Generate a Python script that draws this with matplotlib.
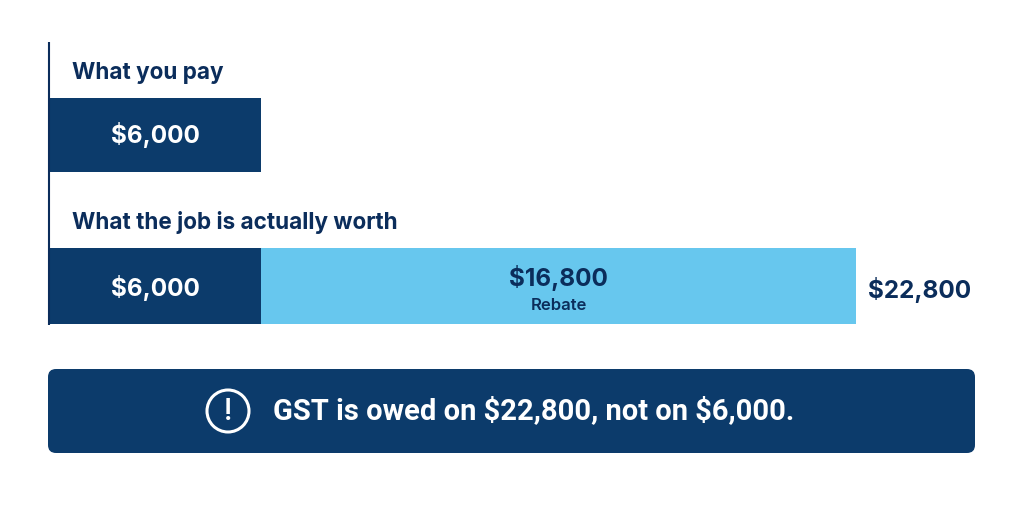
import matplotlib.pyplot as plt
from matplotlib.patches import FancyBboxPatch, Circle

# values
paid = 6000
rebate = 16800
worth = paid + rebate
row_titles = ["What you pay", "What the job is actually worth"]
paid_label = "$6,000"
rebate_label = "$16,800"
rebate_name = "Rebate"
worth_label = "$22,800"
note = "GST is owed on $22,800, not on $6,000."

navy = "#0c3b6b"
sky = "#67c7ee"
ink = "#0b2d5b"
plt.rcParams['font.family'] = ['Inter', 'DejaVu Sans']

fig = plt.figure(figsize=(10.24, 5.12), dpi=100)
fig.patch.set_facecolor("white")

# bar axes: x in dollars, y in pixels (top down)
ax = fig.add_axes([49 / 1024, 0, 807 / 1024, 1])
ax.set_xlim(0, worth)
ax.set_ylim(512, 0)
ax.axis("off")
ax.set_facecolor("none")

ax.barh(135, paid, height=74, left=0, color=navy)
ax.barh(286, paid, height=76, left=0, color=navy)
ax.barh(286, rebate, height=76, left=paid, color=sky)

ax.text(paid / 2, 135, paid_label, color="white", fontsize=17.5, fontweight="bold",
        ha="center", va="center", parse_math=False)
ax.text(paid / 2, 288, paid_label, color="white", fontsize=17.5, fontweight="bold",
        ha="center", va="center", parse_math=False)
ax.text(paid + rebate / 2, 278, rebate_label, color=ink, fontsize=17.5, fontweight="bold",
        ha="center", va="center", parse_math=False)
ax.text(paid + rebate / 2, 305, rebate_name, color=ink, fontsize=12, fontweight="semibold",
        ha="center", va="center")

# overlay in pixel coordinates
ov = fig.add_axes([0, 0, 1, 1])
ov.set_xlim(0, 1024)
ov.set_ylim(512, 0)
ov.axis("off")
ov.set_facecolor("none")

ov.plot([49, 49], [42, 325], color=ink, lw=1.5, solid_capstyle="butt")
ov.text(72, 73, row_titles[0], color=ink, fontsize=16.2, fontweight="bold", va="center")
ov.text(72, 222, row_titles[1], color=ink, fontsize=16.2, fontweight="bold", va="center")
ov.text(868, 290, worth_label, color=ink, fontsize=17.5, fontweight="bold", va="center",
        parse_math=False)

box = FancyBboxPatch((48, 369), 927, 84, boxstyle="round,pad=0,rounding_size=8",
                     facecolor=navy, edgecolor="none")
ov.add_patch(box)
ov.add_patch(Circle((228, 411), 21, facecolor="none", edgecolor="white", lw=2.2))
ov.text(228, 412, "!", color="white", fontsize=22, fontweight="medium", ha="center", va="center",
        family=["Roboto", "DejaVu Sans"])
ov.text(273, 411, note, color="white", fontsize=21, fontweight="bold", va="center",
        family=["Roboto", "DejaVu Sans"], parse_math=False)

fig.savefig("out.png", dpi=100, facecolor="white")
